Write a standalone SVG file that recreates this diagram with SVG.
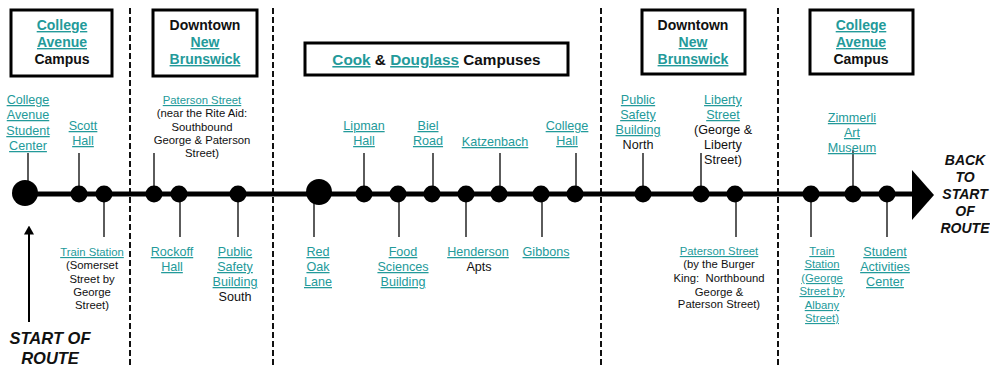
<svg xmlns="http://www.w3.org/2000/svg" width="990" height="368" viewBox="0 0 990 368">
<defs>
<style>
text{font-family:"Liberation Sans",Arial,sans-serif;fill:#111;text-anchor:middle}
.lk{fill:#239a9a;text-decoration:underline}
.hd{font-size:14px;font-weight:bold}
.lb{font-size:12.6px}
.sm{font-size:11.3px}
.bi{font-size:14px;font-weight:bold;font-style:italic}
.box{fill:#fff;stroke:#000;stroke-width:3}
.stem{stroke:#333;stroke-width:1.6}
.dot{fill:#000}
.div{stroke:#111;stroke-width:2;stroke-dasharray:6 3}
</style>
<marker id="ah" markerWidth="9" markerHeight="10" refX="4.5" refY="5" orient="auto" markerUnits="userSpaceOnUse">
<path d="M0,0 L9,5 L0,10 Z" fill="#000"/>
</marker>
</defs>
<rect width="990" height="368" fill="#fff"/>
<g id="dividers">
<line class="div" x1="130" y1="8" x2="130" y2="368"/>
<line class="div" x1="273" y1="8" x2="273" y2="368"/>
<line class="div" x1="601" y1="8" x2="601" y2="368"/>
<line class="div" x1="778" y1="8" x2="778" y2="368"/>
</g>
<g id="headers">
<g id="h-college1"><rect class="box" x="11" y="10" width="101" height="66"/>
<text class="hd"><tspan class="lk" x="62" y="30">College</tspan><tspan class="lk" x="62" y="47">Avenue</tspan><tspan x="62" y="64">Campus</tspan></text></g>
<g id="h-downtown1"><rect class="box" x="153" y="10" width="104" height="66"/>
<text class="hd"><tspan x="205" y="30">Downtown</tspan><tspan class="lk" x="205" y="47">New</tspan><tspan class="lk" x="205" y="64">Brunswick</tspan></text></g>
<g id="h-cook"><rect class="box" x="305" y="43" width="263" height="32"/>
<text style="font-size:15.3px;font-weight:bold" x="436.5" y="65"><tspan class="lk">Cook</tspan> &amp; <tspan class="lk">Douglass</tspan> Campuses</text></g>
<g id="h-downtown2"><rect class="box" x="642" y="10" width="103" height="64"/>
<text class="hd"><tspan x="693" y="30">Downtown</tspan><tspan class="lk" x="693" y="47">New</tspan><tspan class="lk" x="693" y="64">Brunswick</tspan></text></g>
<g id="h-college2"><rect class="box" x="810" y="10" width="103" height="64"/>
<text class="hd"><tspan class="lk" x="861" y="30">College</tspan><tspan class="lk" x="861" y="47">Avenue</tspan><tspan x="861" y="64">Campus</tspan></text></g>
</g>
<g id="connectors">
<line x1="25" y1="194" x2="914" y2="194" stroke="#000" stroke-width="5"/>
<path d="M912,170 L934,195 L912,220 Z" fill="#000"/>
<line x1="29" y1="322" x2="29" y2="230" stroke="#000" stroke-width="2" marker-end="url(#ah)"/>
</g>
<g id="n-cas"><line class="stem" x1="28" y1="153" x2="28" y2="194"/><circle class="dot" cx="25" cy="193" r="13"/>
<text class="lb"><tspan class="lk" x="28" y="104">College</tspan><tspan class="lk" x="28" y="119">Avenue</tspan><tspan class="lk" x="28" y="135">Student</tspan><tspan class="lk" x="28" y="150">Center</tspan></text></g>
<g id="n-scott"><line class="stem" x1="79" y1="153" x2="79" y2="194"/><circle class="dot" cx="79" cy="194" r="8.5"/>
<text class="lb"><tspan class="lk" x="83" y="130">Scott</tspan><tspan class="lk" x="83" y="145">Hall</tspan></text></g>
<g id="n-train1"><line class="stem" x1="104" y1="194" x2="104" y2="237"/><circle class="dot" cx="104" cy="194" r="8.5"/>
<text class="sm"><tspan class="lk" x="92" y="256">Train Station</tspan><tspan x="92" y="269">(Somerset</tspan><tspan x="92" y="283">Street by</tspan><tspan x="92" y="296">George</tspan><tspan x="92" y="309">Street)</tspan></text></g>
<g id="n-paterson1"><line class="stem" x1="154" y1="153" x2="154" y2="194"/><circle class="dot" cx="154" cy="194" r="8.5"/>
<text class="sm"><tspan class="lk" x="202" y="104">Paterson Street</tspan><tspan x="202" y="117">(near the Rite Aid:</tspan><tspan x="202" y="131">Southbound</tspan><tspan x="202" y="144">George &amp; Paterson</tspan><tspan x="202" y="157">Street)</tspan></text></g>
<g id="n-rockoff"><line class="stem" x1="180" y1="194" x2="180" y2="237"/><circle class="dot" cx="179" cy="194" r="8.5"/>
<text class="lb"><tspan class="lk" x="172" y="256">Rockoff</tspan><tspan class="lk" x="172" y="271">Hall</tspan></text></g>
<g id="n-pssouth"><line class="stem" x1="238" y1="194" x2="238" y2="237"/><circle class="dot" cx="238" cy="194" r="8.5"/>
<text class="lb"><tspan class="lk" x="235" y="256">Public</tspan><tspan class="lk" x="235" y="271">Safety</tspan><tspan class="lk" x="235" y="286">Building</tspan><tspan x="235" y="301">South</tspan></text></g>
<g id="n-redoak"><line class="stem" x1="314" y1="194" x2="314" y2="237"/><circle class="dot" cx="319" cy="192" r="13"/>
<text class="lb"><tspan class="lk" x="318" y="256">Red</tspan><tspan class="lk" x="318" y="271">Oak</tspan><tspan class="lk" x="318" y="286">Lane</tspan></text></g>
<g id="n-lipman"><line class="stem" x1="364" y1="153" x2="364" y2="194"/><circle class="dot" cx="364" cy="194" r="8.5"/>
<text class="lb"><tspan class="lk" x="364" y="130">Lipman</tspan><tspan class="lk" x="364" y="145">Hall</tspan></text></g>
<g id="n-foodsci"><line class="stem" x1="399" y1="194" x2="399" y2="237"/><circle class="dot" cx="398" cy="194" r="8.5"/>
<text class="lb"><tspan class="lk" x="403" y="256">Food</tspan><tspan class="lk" x="403" y="271">Sciences</tspan><tspan class="lk" x="403" y="286">Building</tspan></text></g>
<g id="n-biel"><line class="stem" x1="433" y1="153" x2="433" y2="194"/><circle class="dot" cx="432" cy="194" r="8.5"/>
<text class="lb"><tspan class="lk" x="428" y="130">Biel</tspan><tspan class="lk" x="428" y="145">Road</tspan></text></g>
<g id="n-henderson"><line class="stem" x1="466" y1="194" x2="466" y2="237"/><circle class="dot" cx="466" cy="194" r="8.5"/>
<text class="lb"><tspan class="lk" x="478" y="256">Henderson</tspan><tspan x="479" y="271">Apts</tspan></text></g>
<g id="n-katzenbach"><line class="stem" x1="500" y1="153" x2="500" y2="194"/><circle class="dot" cx="499" cy="194" r="8.5"/>
<text class="lb"><tspan class="lk" x="495" y="146">Katzenbach</tspan></text></g>
<g id="n-gibbons"><line class="stem" x1="542" y1="194" x2="542" y2="237"/><circle class="dot" cx="541" cy="194" r="8.5"/>
<text class="lb"><tspan class="lk" x="546" y="256">Gibbons</tspan></text></g>
<g id="n-collegehall"><line class="stem" x1="576" y1="153" x2="576" y2="194"/><circle class="dot" cx="575" cy="194" r="8.5"/>
<text class="lb"><tspan class="lk" x="567" y="130">College</tspan><tspan class="lk" x="567" y="145">Hall</tspan></text></g>
<g id="n-psnorth"><line class="stem" x1="643" y1="153" x2="643" y2="194"/><circle class="dot" cx="643" cy="194" r="8.5"/>
<text class="lb"><tspan class="lk" x="638" y="104">Public</tspan><tspan class="lk" x="638" y="119">Safety</tspan><tspan class="lk" x="638" y="134">Building</tspan><tspan x="638" y="149">North</tspan></text></g>
<g id="n-liberty"><line class="stem" x1="701" y1="153" x2="701" y2="194"/><circle class="dot" cx="701" cy="194" r="8.5"/>
<text class="lb"><tspan class="lk" x="723" y="104">Liberty</tspan><tspan class="lk" x="723" y="119">Street</tspan><tspan x="723" y="134">(George &amp;</tspan><tspan x="723" y="149">Liberty</tspan><tspan x="723" y="164">Street)</tspan></text></g>
<g id="n-paterson2"><line class="stem" x1="736" y1="194" x2="736" y2="237"/><circle class="dot" cx="735" cy="194" r="8.5"/>
<text class="sm" xml:space="preserve"><tspan class="lk" x="719" y="255">Paterson Street</tspan><tspan x="719" y="268">(by the Burger</tspan><tspan x="719" y="282">King:  Northbound</tspan><tspan x="719" y="296">George &amp;</tspan><tspan x="719" y="308">Paterson Street)</tspan></text></g>
<g id="n-train2"><line class="stem" x1="811" y1="194" x2="811" y2="237"/><circle class="dot" cx="811" cy="194" r="8.5"/>
<text class="sm"><tspan class="lk" x="822" y="255">Train</tspan><tspan class="lk" x="822" y="268">Station</tspan><tspan class="lk" x="822" y="282">(George</tspan><tspan class="lk" x="822" y="295">Street by</tspan><tspan class="lk" x="822" y="309">Albany</tspan><tspan class="lk" x="822" y="322">Street)</tspan></text></g>
<g id="n-zimmerli"><line class="stem" x1="853" y1="150" x2="853" y2="194"/><circle class="dot" cx="853" cy="194" r="8.5"/>
<text class="lb"><tspan class="lk" x="852" y="122">Zimmerli</tspan><tspan class="lk" x="852" y="137">Art</tspan><tspan class="lk" x="852" y="152">Museum</tspan></text></g>
<g id="n-sac"><line class="stem" x1="887" y1="194" x2="887" y2="237"/><circle class="dot" cx="887" cy="194" r="8.5"/>
<text class="lb"><tspan class="lk" x="885" y="256">Student</tspan><tspan class="lk" x="885" y="271">Activities</tspan><tspan class="lk" x="885" y="286">Center</tspan></text></g>
<g id="back-label"><text class="bi"><tspan x="965" y="165">BACK</tspan><tspan x="965" y="182">TO</tspan><tspan x="965" y="199">START</tspan><tspan x="965" y="216">OF</tspan><tspan x="965" y="233">ROUTE</tspan></text></g>
<g id="start-label"><text style="font-size:16.5px;font-weight:bold;font-style:italic"><tspan x="50" y="344">START OF</tspan><tspan x="50" y="364">ROUTE</tspan></text></g>
</svg>
